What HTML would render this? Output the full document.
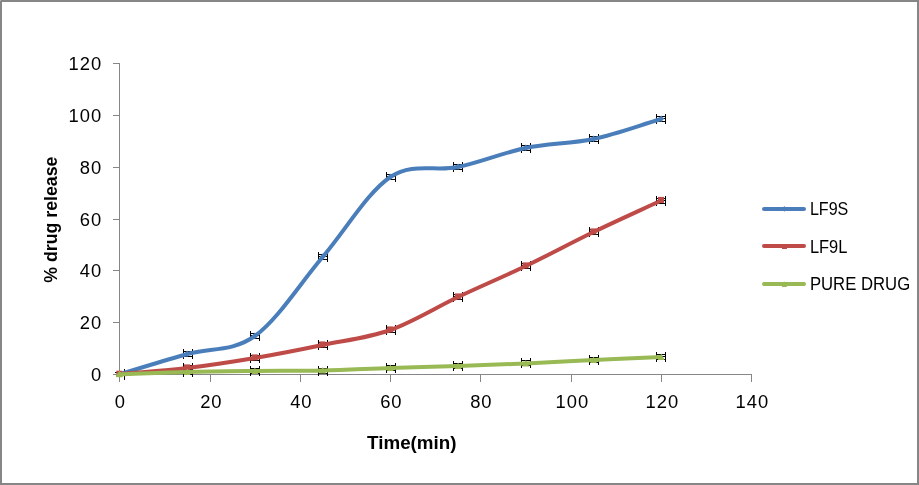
<!DOCTYPE html>
<html lang="en"><head><meta charset="utf-8"><title>% drug release vs Time(min)</title>
<style>html,body{margin:0;padding:0;background:#fff;}body{width:919px;height:485px;overflow:hidden;}svg{display:block;will-change:transform;}text{font-family:"Liberation Sans", Arial, sans-serif;fill:#000;}</style></head><body>
<svg width="919" height="485" viewBox="0 0 919 485">
<rect x="0" y="0" width="919" height="485" fill="#fff"/>
<rect x="1" y="1" width="917" height="483" fill="none" stroke="#868686" stroke-width="2"/>
<rect x="0" y="0" width="1" height="1" fill="#b4b4b4"/>
<path d="M119.5 63V382M113 374.5H752M113 374.5H120M113 322.5H120M113 270.5H120M113 219.5H120M113 167.5H120M113 115.5H120M113 63.5H120M119.5 374V382M210.5 374V382M300.5 374V382M390.5 374V382M480.5 374V382M571.5 374V382M661.5 374V382M751.5 374V382" fill="none" stroke="#868686" stroke-width="1" shape-rendering="crispEdges"/>
<g fill="none" stroke="#000" stroke-width="1" shape-rendering="crispEdges">
<path d="M183.5 349V359M192.5 349V359M182.5 351.5H193M182.5 356.5H193M183.5 353.5H192.5M187.5 351.5V356.5"/>
<path d="M250.5 331V341M259.5 331V341M249.5 333.5H260M249.5 338.5H260M250.5 335.5H259.5M254.5 333.5V338.5"/>
<path d="M318.5 252V262M327.5 252V262M317.5 254.5H328M317.5 259.5H328M318.5 256.5H327.5M322.5 254.5V259.5"/>
<path d="M386.5 172V182M395.5 172V182M385.5 174.5H396M385.5 179.5H396M386.5 176.5H395.5M390.5 174.5V179.5"/>
<path d="M453.5 162V172M462.5 162V172M452.5 164.5H463M452.5 169.5H463M453.5 166.5H462.5M457.5 164.5V169.5"/>
<path d="M521.5 143V153M530.5 143V153M520.5 145.5H531M520.5 150.5H531M521.5 147.5H530.5M525.5 145.5V150.5"/>
<path d="M589.5 134V144M598.5 134V144M588.5 136.5H599M588.5 141.5H599M589.5 138.5H598.5M593.5 136.5V141.5"/>
<path d="M656.5 114V124M665.5 114V124M655.5 116.5H666M655.5 121.5H666M656.5 118.5H665.5M660.5 116.5V121.5"/>
<path d="M183.5 363V373M192.5 363V373M182.5 365.5H193M182.5 370.5H193M183.5 367.5H192.5M187.5 365.5V370.5"/>
<path d="M250.5 353V363M259.5 353V363M249.5 355.5H260M249.5 360.5H260M250.5 357.5H259.5M254.5 355.5V360.5"/>
<path d="M318.5 340V350M327.5 340V350M317.5 342.5H328M317.5 347.5H328M318.5 344.5H327.5M322.5 342.5V347.5"/>
<path d="M386.5 325V335M395.5 325V335M385.5 327.5H396M385.5 332.5H396M386.5 329.5H395.5M390.5 327.5V332.5"/>
<path d="M453.5 292V302M462.5 292V302M452.5 294.5H463M452.5 299.5H463M453.5 296.5H462.5M457.5 294.5V299.5"/>
<path d="M521.5 261V271M530.5 261V271M520.5 263.5H531M520.5 268.5H531M521.5 265.5H530.5M525.5 263.5V268.5"/>
<path d="M589.5 227V237M598.5 227V237M588.5 229.5H599M588.5 234.5H599M589.5 231.5H598.5M593.5 229.5V234.5"/>
<path d="M656.5 196V206M665.5 196V206M655.5 198.5H666M655.5 203.5H666M656.5 200.5H665.5M660.5 198.5V203.5"/>
<path d="M183.5 367V377M192.5 367V377M182.5 369.5H193M182.5 374.5H193M183.5 371.5H192.5M187.5 369.5V374.5"/>
<path d="M250.5 366V376M259.5 366V376M249.5 368.5H260M249.5 373.5H260M250.5 370.5H259.5M254.5 368.5V373.5"/>
<path d="M318.5 366V376M327.5 366V376M317.5 368.5H328M317.5 373.5H328M318.5 370.5H327.5M322.5 368.5V373.5"/>
<path d="M386.5 363V373M395.5 363V373M385.5 365.5H396M385.5 370.5H396M386.5 367.5H395.5M390.5 365.5V370.5"/>
<path d="M453.5 361V371M462.5 361V371M452.5 363.5H463M452.5 368.5H463M453.5 365.5H462.5M457.5 363.5V368.5"/>
<path d="M521.5 358V368M530.5 358V368M520.5 360.5H531M520.5 365.5H531M521.5 362.5H530.5M525.5 360.5V365.5"/>
<path d="M589.5 355V365M598.5 355V365M588.5 357.5H599M588.5 362.5H599M589.5 359.5H598.5M593.5 357.5V362.5"/>
<path d="M656.5 352V362M665.5 352V362M655.5 354.5H666M655.5 359.5H666M656.5 356.5H665.5M660.5 354.5V359.5"/>
<path d="M124.5 369V380M115 372.5H117"/>
</g>
<path d="M119.50 374.30 C142.07 367.53 164.64 360.38 187.21 354.00 C209.79 347.62 232.36 352.17 254.93 336.00 C277.50 319.83 300.07 283.50 322.64 257.00 C345.22 230.50 367.79 192.00 390.36 177.00 C412.93 162.00 435.50 171.83 458.07 167.00 C480.64 162.17 503.22 152.67 525.79 148.00 C548.36 143.33 570.93 143.83 593.50 139.00 C616.07 134.17 638.64 125.67 661.22 119.00" fill="none" stroke="#4a7ebb" stroke-width="4.0" stroke-linecap="butt" stroke-linejoin="round"/>
<path d="M187.2 350.4l2.9 3.3l-2.9 3.3l-2.9 -3.3z" fill="#4a7ebb"/>
<path d="M254.9 332.4l2.9 3.3l-2.9 3.3l-2.9 -3.3z" fill="#4a7ebb"/>
<path d="M322.6 253.4l2.9 3.3l-2.9 3.3l-2.9 -3.3z" fill="#4a7ebb"/>
<path d="M390.4 173.4l2.9 3.3l-2.9 3.3l-2.9 -3.3z" fill="#4a7ebb"/>
<path d="M458.1 163.4l2.9 3.3l-2.9 3.3l-2.9 -3.3z" fill="#4a7ebb"/>
<path d="M525.8 144.4l2.9 3.3l-2.9 3.3l-2.9 -3.3z" fill="#4a7ebb"/>
<path d="M593.5 135.4l2.9 3.3l-2.9 3.3l-2.9 -3.3z" fill="#4a7ebb"/>
<path d="M661.2 115.4l2.9 3.3l-2.9 3.3l-2.9 -3.3z" fill="#4a7ebb"/>
<rect x="116.3" y="370.7" width="6" height="6" fill="#be4b48"/>
<rect x="184.0" y="364.4" width="6" height="6" fill="#be4b48"/>
<rect x="251.7" y="354.4" width="6" height="6" fill="#be4b48"/>
<rect x="319.4" y="341.4" width="6" height="6" fill="#be4b48"/>
<rect x="387.2" y="326.4" width="6" height="6" fill="#be4b48"/>
<rect x="454.9" y="293.4" width="6" height="6" fill="#be4b48"/>
<rect x="522.6" y="262.4" width="6" height="6" fill="#be4b48"/>
<rect x="590.3" y="228.4" width="6" height="6" fill="#be4b48"/>
<rect x="658.0" y="196.9" width="6" height="6" fill="#be4b48"/>
<path d="M119.50 374.30 C142.07 372.20 164.64 370.72 187.21 368.00 C209.79 365.28 232.36 361.83 254.93 358.00 C277.50 354.17 300.07 349.67 322.64 345.00 C345.22 340.33 367.79 338.00 390.36 330.00 C412.93 322.00 435.50 307.67 458.07 297.00 C480.64 286.33 503.22 276.83 525.79 266.00 C548.36 255.17 570.93 242.92 593.50 232.00 C616.07 221.08 638.64 211.00 661.22 200.50" fill="none" stroke="#be4b48" stroke-width="4.0" stroke-linecap="butt" stroke-linejoin="round"/>
<path d="M119.50 374.30 C142.07 373.53 164.64 372.55 187.21 372.00 C209.79 371.45 232.36 371.25 254.93 371.00 C277.50 370.75 300.07 371.00 322.64 370.50 C345.22 370.00 367.79 368.75 390.36 368.00 C412.93 367.25 435.50 366.77 458.07 366.00 C480.64 365.23 503.22 364.40 525.79 363.40 C548.36 362.40 570.93 361.07 593.50 360.00 C616.07 358.93 638.64 358.00 661.22 357.00" fill="none" stroke="#98b954" stroke-width="4.0" stroke-linecap="butt" stroke-linejoin="round"/>
<path d="M119.5 370.8L122.9 377.3H116.1Z" fill="#98b954"/>
<path d="M187.2 368.5L190.6 375.0H183.8Z" fill="#98b954"/>
<path d="M254.9 367.5L258.3 374.0H251.5Z" fill="#98b954"/>
<path d="M322.6 367.0L326.0 373.5H319.2Z" fill="#98b954"/>
<path d="M390.4 364.5L393.8 371.0H387.0Z" fill="#98b954"/>
<path d="M458.1 362.5L461.5 369.0H454.7Z" fill="#98b954"/>
<path d="M525.8 359.9L529.2 366.4H522.4Z" fill="#98b954"/>
<path d="M593.5 356.5L596.9 363.0H590.1Z" fill="#98b954"/>
<path d="M661.2 353.5L664.6 360.0H657.8Z" fill="#98b954"/>
<path d="M116.2 376.8V375L119.5 371.2L122 373.6V376.8Z" fill="#98b954"/>
<text transform="translate(102.1 380.9) scale(1.050 1)" font-size="17.5px" letter-spacing="0.9" text-anchor="end">0</text>
<text transform="translate(102.1 328.9) scale(1.050 1)" font-size="17.5px" letter-spacing="0.9" text-anchor="end">20</text>
<text transform="translate(102.1 276.9) scale(1.050 1)" font-size="17.5px" letter-spacing="0.9" text-anchor="end">40</text>
<text transform="translate(102.1 225.9) scale(1.050 1)" font-size="17.5px" letter-spacing="0.9" text-anchor="end">60</text>
<text transform="translate(102.1 173.9) scale(1.050 1)" font-size="17.5px" letter-spacing="0.9" text-anchor="end">80</text>
<text transform="translate(102.1 121.9) scale(1.050 1)" font-size="17.5px" letter-spacing="0.9" text-anchor="end">100</text>
<text transform="translate(102.1 69.9) scale(1.050 1)" font-size="17.5px" letter-spacing="0.9" text-anchor="end">120</text>
<text transform="translate(120.3 408.3) scale(1.050 1)" font-size="17.5px" letter-spacing="0.9" text-anchor="middle">0</text>
<text transform="translate(211.3 408.3) scale(1.050 1)" font-size="17.5px" letter-spacing="0.9" text-anchor="middle">20</text>
<text transform="translate(301.3 408.3) scale(1.050 1)" font-size="17.5px" letter-spacing="0.9" text-anchor="middle">40</text>
<text transform="translate(391.3 408.3) scale(1.050 1)" font-size="17.5px" letter-spacing="0.9" text-anchor="middle">60</text>
<text transform="translate(481.3 408.3) scale(1.050 1)" font-size="17.5px" letter-spacing="0.9" text-anchor="middle">80</text>
<text transform="translate(572.3 408.3) scale(1.050 1)" font-size="17.5px" letter-spacing="0.9" text-anchor="middle">100</text>
<text transform="translate(662.3 408.3) scale(1.050 1)" font-size="17.5px" letter-spacing="0.9" text-anchor="middle">120</text>
<text transform="translate(752.3 408.3) scale(1.050 1)" font-size="17.5px" letter-spacing="0.9" text-anchor="middle">140</text>
<text transform="translate(411.8 448.6) scale(1.045 1)" font-size="18px" font-weight="bold" text-anchor="middle">Time(min)</text>
<text transform="translate(56.7 219.7) rotate(-90) scale(0.955 1)" font-size="18.6px" font-weight="bold" text-anchor="middle">% drug release</text>
<path d="M764 209.0H804" stroke="#4a7ebb" stroke-width="4.0" stroke-linecap="round" fill="none"/>
<path d="M784.3 205.9L786.6 209L784.3 211.8L782 209Z" fill="#4a7ebb"/>
<text transform="translate(809.9 215.0) scale(0.920 1)" font-size="17.5px">LF9S</text>
<path d="M764 246.0H804" stroke="#be4b48" stroke-width="4.0" stroke-linecap="round" fill="none"/>
<rect x="782" y="244" width="5" height="5" fill="#be4b48"/>
<text transform="translate(809.9 253.0) scale(0.940 1)" font-size="17.5px">LF9L</text>
<path d="M764 284.0H804" stroke="#98b954" stroke-width="4.0" stroke-linecap="round" fill="none"/>
<path d="M784.4 281.2L787 287H781.8Z" fill="#98b954"/>
<text transform="translate(809.9 290.0) scale(0.955 1)" font-size="17.5px">PURE DRUG</text>
</svg></body></html>
